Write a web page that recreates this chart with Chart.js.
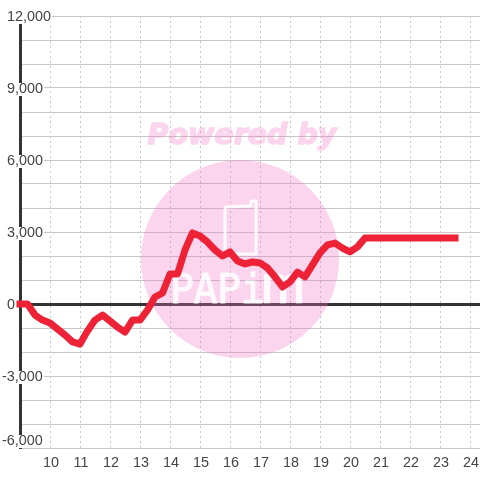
<!DOCTYPE html>
<html>
<head>
<meta charset="utf-8">
<script src="https://cdn.jsdelivr.net/npm/chart.js@4/dist/chart.umd.min.js"></script>
<style>
  html, body { margin: 0; padding: 0; background: #fff; }
  #wrap { position: relative; width: 480px; height: 480px; }
</style>
</head>
<body>
<div id="wrap"><canvas id="c" width="480" height="480"></canvas></div>
<script>
// hours of the day, quarter-hourly from 9:00 to 23:30
const hours = [9, 9.25, 9.5, 9.75, 10, 10.25, 10.5, 10.75, 11, 11.25, 11.5, 11.75, 12, 12.25, 12.5, 12.75,
  13, 13.25, 13.5, 13.75, 14, 14.25, 14.5, 14.75, 15, 15.25, 15.5, 15.75, 16, 16.25, 16.5, 16.75,
  17, 17.25, 17.5, 17.75, 18, 18.25, 18.5, 18.75, 19, 19.25, 19.5, 19.75, 20, 20.25, 20.5, 20.75,
  21, 21.25, 21.5, 21.75, 22, 22.25, 22.5, 22.75, 23, 23.25, 23.5];
const values = [0, 0, -460, -670, -790, -1040, -1290, -1580, -1670, -1120, -670, -460, -710, -960, -1170, -670,
  -670, -250, 290, 460, 1250, 1250, 2250, 2960, 2830, 2580, 2250, 2000, 2170, 1790, 1670, 1750,
  1710, 1500, 1130, 710, 920, 1330, 1130, 1630, 2130, 2460, 2540, 2330, 2170, 2380, 2750, 2750,
  2750, 2750, 2750, 2750, 2750, 2750, 2750, 2750, 2750, 2750, 2750];
const yLabelValues = [12000, 9000, 6000, 3000, 0, -3000, -6000];
const watermarkText = 'Powered by';
const logoLetters = ['P', 'A', 'P', 'i'];
const logoLast = 'm';

const yLabels = {
  id: 'yLabels',
  // labels sit inside the plot with a white box, so draw them after the grid
  beforeDatasetsDraw(chart) {
    const { ctx, scales: { y } } = chart;
    ctx.save();
    ctx.font = '14.4px "Liberation Sans"';
    ctx.textBaseline = 'middle';
    ctx.textAlign = 'left';
    yLabelValues.forEach(v => {
      const txt = v.toLocaleString('en-US');
      const w = ctx.measureText(txt).width;
      const x = v < 0 ? 2 : 7;
      let py = y.getPixelForValue(v) + 1;
      if (v === y.min) py -= 8;
      ctx.fillStyle = '#fff';
      ctx.fillRect(x - 1, py - 6, w + 2, 13);
      ctx.fillStyle = '#444';
      ctx.fillText(txt, x, py);
    });
    ctx.restore();
  }
};

// watermark goes on its own layer so overlapping strokes do not add up
function buildWatermark() {
  const cv = document.createElement('canvas');
  cv.width = 480;
  cv.height = 480;
  const g = cv.getContext('2d');
  g.fillStyle = '#f273c3';
  g.strokeStyle = '#f273c3';
  g.beginPath();
  g.arc(240, 259, 99, 0, Math.PI * 2);
  g.fill();
  g.font = 'italic bold 28.5px "DejaVu Sans"';
  g.textAlign = 'center';
  g.textBaseline = 'middle';
  g.lineWidth = 1.5;
  g.lineJoin = 'round';
  g.strokeText(watermarkText, 242, 137);
  g.fillText(watermarkText, 242, 137);
  return cv;
}
const wmLayer = buildWatermark();

// white logo on a layer too, letters get a stroke to thicken them
function buildLogo() {
  const cv = document.createElement('canvas');
  cv.width = 480;
  cv.height = 480;
  const g = cv.getContext('2d');
  g.strokeStyle = '#fff';
  g.fillStyle = '#fff';
  g.lineWidth = 3;
  g.lineJoin = 'round';
  g.beginPath();
  g.moveTo(225, 254);
  g.lineTo(225, 207);
  g.lineTo(251, 206);
  g.lineTo(251, 201);
  g.lineTo(256, 201);
  g.lineTo(256, 254);
  g.closePath();
  g.stroke();
  g.font = '40px "DejaVu Sans Mono"';
  g.textAlign = 'center';
  g.textBaseline = 'alphabetic';
  g.lineWidth = 1;
  logoLetters.forEach((l, i) => {
    g.fillText(l, 182 + i * 23.5, 303);
    g.strokeText(l, 182 + i * 23.5, 303);
  });
  g.translate(283, 303);
  g.scale(1.9, 1.35);
  g.fillText(logoLast, 0, 0);
  return cv;
}
const logoLayer = buildLogo();

const watermark = {
  id: 'watermark',
  beforeDatasetsDraw(chart) {
    const { ctx } = chart;
    ctx.save();
    ctx.globalAlpha = 0.3;
    ctx.drawImage(wmLayer, 0, 0);
    ctx.globalAlpha = 0.85;
    ctx.drawImage(logoLayer, 0, 0);
    ctx.restore();
  }
};

new Chart(document.getElementById('c'), {
  type: 'line',
  data: {
    datasets: [{
      data: hours.map((h, i) => ({ x: h, y: values[i] })),
      borderColor: '#ee2236',
      borderWidth: 7,
      borderCapStyle: 'square',
      borderJoinStyle: 'round',
      pointRadius: 0,
      tension: 0,
      clip: false
    }]
  },
  options: {
    responsive: false,
    animation: false,
    layout: { padding: { top: 16, left: 0, right: 0, bottom: 0 } },
    plugins: { legend: { display: false }, tooltip: { enabled: false } },
    scales: {
      x: {
        type: 'linear',
        min: 9,
        max: 24.3333,
        afterFit(s) { s.height = 32; s.paddingLeft = 0; s.paddingRight = 0; },
        border: { display: false, dash: [2, 3] },
        grid: {
          color: '#c8c8c8',
          drawTicks: false,
          lineWidth: 1
        },
        ticks: {
          stepSize: 1,
          includeBounds: false,
          autoSkip: false,
          maxRotation: 0,
          padding: 6,
          labelOffset: 1,
          color: '#444',
          font: { family: '"Liberation Sans"', size: 14.4 },
          callback: v => (v === 9 ? '' : String(v))
        }
      },
      y: {
        min: -6000,
        max: 12000,
        afterFit(s) { s.width = 20; },
        border: { display: true, color: '#333', width: 3 },
        grid: {
          drawTicks: false,
          color: c => (c.tick && c.tick.value === 0 ? '#333' : '#c8c8c8'),
          lineWidth: c => (c.tick && c.tick.value === 0 ? 3 : 1)
        },
        ticks: { stepSize: 1000, display: false }
      }
    }
  },
  plugins: [watermark, yLabels]
});
</script>
</body>
</html>
